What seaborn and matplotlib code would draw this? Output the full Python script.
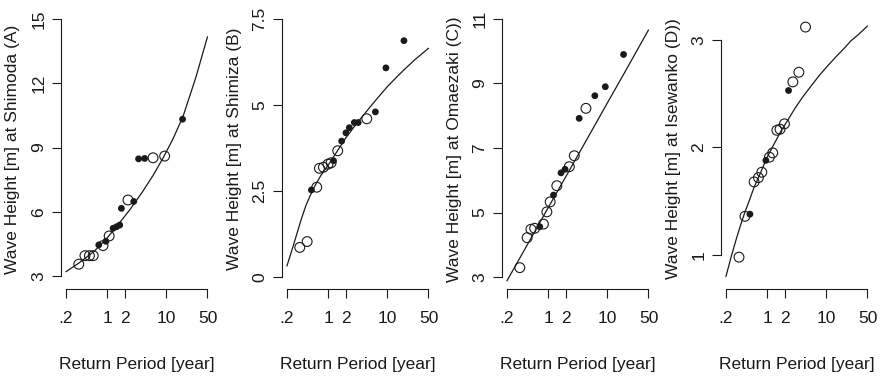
#!/usr/bin/env python3
"""
Return-period plots of wave height at four stations (open = one record, filled = other).
"""

import matplotlib

matplotlib.use("Agg")
import matplotlib.pyplot as plt
import pandas as pd
import seaborn as sns
from matplotlib.ticker import NullLocator

# ---- data ----
period_ticks = [0.2, 1, 2, 10, 50]
period_labels = [".2", "1", "2", "10", "50"]

# (A) Shimoda
a_open_x = [0.33, 0.42, 0.50, 0.58, 0.85, 1.08, 2.25, 5.98, 9.4]
a_open_y = [3.55, 3.95, 3.95, 3.95, 4.42, 4.87, 6.55, 8.52, 8.60]
a_fill_x = [0.72, 0.95, 1.26, 1.44, 1.63, 1.74, 2.82, 3.4, 4.3, 18.9]
a_fill_y = [4.45, 4.62, 5.23, 5.30, 5.38, 6.16, 6.48, 8.47, 8.49, 10.32]
a_fit_x = [0.2, 0.33, 0.6, 1, 1.5, 2.4, 4, 6, 8.8, 13, 19.2, 32, 50]
a_fit_y = [3.2, 3.6, 4.15, 4.78, 5.37, 6.08, 6.95, 7.7, 8.5, 9.4, 10.44, 12.3, 14.17]

# (B) Shimiza
b_open_x = [0.33, 0.44, 0.64, 0.71, 0.83, 0.99, 1.12, 1.45, 4.5]
b_open_y = [0.86, 1.03, 2.61, 3.16, 3.19, 3.28, 3.32, 3.67, 4.60]
b_fill_x = [0.52, 1.23, 1.69, 2.0, 2.28, 2.77, 3.22, 6.3, 9.5, 19.2]
b_fill_y = [2.53, 3.38, 3.95, 4.19, 4.34, 4.49, 4.49, 4.80, 6.08, 6.87]
b_fit_x = [0.2, 0.25, 0.3, 0.35, 0.42, 0.5, 0.6, 0.75, 1, 1.4, 2, 3, 5, 7, 10,
           15, 20, 30, 50]
b_fit_y = [0.32, 0.85, 1.3, 1.68, 2.08, 2.38, 2.66, 2.95, 3.25, 3.64, 4.05, 4.45,
           4.92, 5.22, 5.53, 5.84, 6.05, 6.33, 6.65]

# (C) Omaezaki
c_open_x = [0.33, 0.44, 0.51, 0.59, 0.83, 0.95, 1.08, 1.40, 2.28, 2.77, 4.36]
c_open_y = [3.29, 4.22, 4.48, 4.51, 4.64, 5.02, 5.33, 5.83, 6.42, 6.76, 8.23]
c_fill_x = [0.72, 1.23, 1.65, 1.93, 3.35, 6.17, 9.28, 18.9]
c_fill_y = [4.56, 5.54, 6.23, 6.34, 7.92, 8.62, 8.90, 9.90]
c_fit_x = [0.2, 0.5, 1, 2, 5, 10, 20, 50]
c_fit_y = [2.88, 4.17, 5.15, 6.12, 7.41, 8.39, 9.36, 10.66]

# (D) Isewanko
d_open_x = [0.333, 0.42, 0.60, 0.71, 0.81, 1.09, 1.24, 1.46, 1.65, 1.96, 2.72, 3.44, 4.46]
d_open_y = [0.98, 1.36, 1.68, 1.72, 1.77, 1.91, 1.95, 2.16, 2.17, 2.22, 2.61, 2.70, 3.12]
d_fill_x = [0.51, 0.95, 2.30]
d_fill_y = [1.38, 1.88, 2.53]
d_fit_x = [0.2, 0.25, 0.3, 0.35, 0.42, 0.5, 0.6, 0.75, 1, 1.3, 1.7, 2.15, 3, 4,
           5.5, 7.9, 11, 15, 20, 26, 35, 50]
d_fit_y = [0.80, 1.00, 1.15, 1.27, 1.40, 1.51, 1.63, 1.75, 1.91, 2.03, 2.15, 2.24,
           2.37, 2.47, 2.57, 2.68, 2.77, 2.85, 2.92, 2.99, 3.05, 3.13]

INK = "#1a1a1a"
FS = 12.5


def draw_panel(ax, open_xy, fill_xy, fit_xy, ylim, yticks, yticklabels, ylabel):
    fit = pd.DataFrame({"T": fit_xy[0], "H": fit_xy[1]})
    op = pd.DataFrame({"T": open_xy[0], "H": open_xy[1]})
    fl = pd.DataFrame({"T": fill_xy[0], "H": fill_xy[1]})

    sns.lineplot(data=fit, x="T", y="H", ax=ax, color=INK, lw=0.9,
                 sort=False, estimator=None)
    sns.scatterplot(data=op, x="T", y="H", ax=ax, marker="o", s=50,
                    facecolor="none", edgecolor=INK, linewidth=0.8)
    sns.scatterplot(data=fl, x="T", y="H", ax=ax, marker="o", s=24,
                    color=INK, edgecolor="none", linewidth=0)

    ax.set_xscale("log")
    ax.set_xlim(0.165, 62)
    ax.set_ylim(*ylim)
    ax.set_xticks(period_ticks)
    ax.set_xticklabels(period_labels)
    ax.xaxis.set_minor_locator(NullLocator())
    ax.set_yticks(yticks)
    ax.set_yticklabels(yticklabels)

    for side in ("top", "right"):
        ax.spines[side].set_visible(False)
    for side in ("left", "bottom"):
        ax.spines[side].set_color(INK)
        ax.spines[side].set_linewidth(0.8)
    ax.spines["left"].set_bounds(yticks[0], yticks[-1])
    ax.spines["bottom"].set_bounds(period_ticks[0], period_ticks[-1])

    ax.tick_params(axis="both", length=6.5, width=0.8, color=INK,
                   labelcolor=INK, labelsize=FS)
    ax.tick_params(axis="x", pad=9.5)
    ax.tick_params(axis="y", pad=4, labelrotation=90)
    for lab in ax.get_yticklabels():
        lab.set_va("center")

    ax.set_xlabel("Return Period [year]", fontsize=FS, color=INK, va="center")
    ax.xaxis.set_label_coords(0.5, -75 / 280)
    ax.set_ylabel(ylabel, fontsize=FS, color=INK, va="center")
    ax.yaxis.set_label_coords(-48 / 152, 0.5)
    ax.grid(False)


def main() -> None:
    sns.set_theme(style="ticks")
    plt.rcParams["font.family"] = ["Liberation Sans", "DejaVu Sans"]

    W, H = 880, 376
    fig = plt.figure(figsize=(W / 100, H / 100), dpi=100)
    fig.patch.set_facecolor("white")

    lefts = [61, 282, 502, 721]
    panels = [
        ((a_open_x, a_open_y), (a_fill_x, a_fill_y), (a_fit_x, a_fit_y),
         (2.393, 15.467), [3, 6, 9, 12, 15], ["3", "6", "9", "12", "15"],
         "Wave Height [m] at Shimoda (A)"),
        ((b_open_x, b_open_y), (b_fill_x, b_fill_y), (b_fit_x, b_fit_y),
         (-0.349, 7.791), [0, 2.5, 5, 7.5], ["0", "2.5", "5", "7.5"],
         "Wave Height [m] at Shimiza (B)"),
        ((c_open_x, c_open_y), (c_fill_x, c_fill_y), (c_fit_x, c_fit_y),
         (2.628, 11.31), [3, 5, 7, 9, 11], ["3", "5", "7", "9", "11"],
         "Wave Height [m] at Omaezaki (C))"),
        ((d_open_x, d_open_y), (d_fill_x, d_fill_y), (d_fit_x, d_fit_y),
         (0.684, 3.288), [1, 2, 3], ["1", "2", "3"],
         "Wave Height [m] at Isewanko (D))"),
    ]

    for left, args in zip(lefts, panels):
        ax = fig.add_axes([left / W, (H - 289) / H, 152 / W, 280 / H])
        ax.set_facecolor("none")
        draw_panel(ax, *args)

    fig.savefig("out.png", dpi=100, facecolor="white")
    plt.close(fig)


if __name__ == "__main__":
    main()
